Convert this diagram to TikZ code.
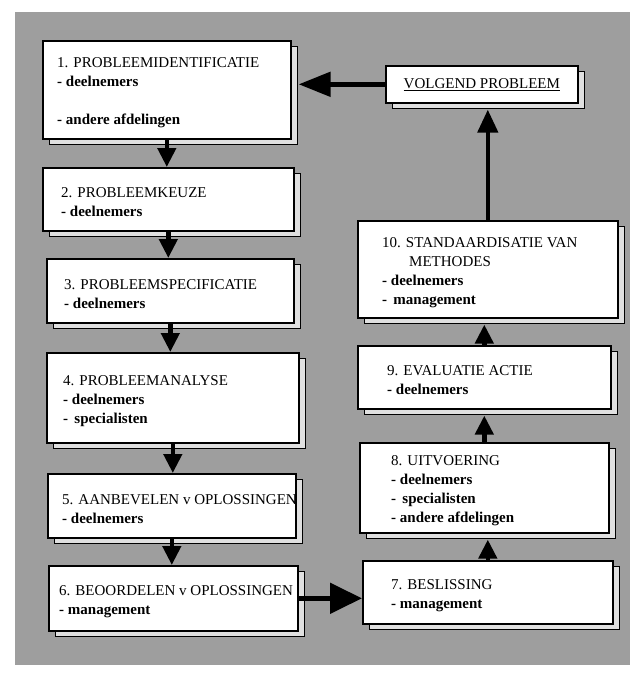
\documentclass[tikz,border=0pt]{standalone}
\usepackage{fontspec}
\setmainfont{Liberation Serif}
\usetikzlibrary{positioning,arrows.meta,shadows}

\begin{document}
\begin{tikzpicture}[
    x=1pt, y=-1pt,
    blok/.style={draw, line width=1.6pt, fill=white, anchor=north west, inner sep=0pt,
      font=\fontsize{15}{19}\selectfont,
      copy shadow={shadow xshift=7pt, shadow yshift=-6pt, fill=black!12, draw=black, line width=1.2pt}},
    tekst/.style={inner sep=0pt, align=left, yshift=-3pt, font=\fontsize{15}{19}\selectfont},
    pijl/.style={line width=4.5pt, -{Triangle[length=19pt,width=18pt]}},
    grotepijl/.style={line width=5pt, -{Triangle[length=32pt,width=30pt]}}
  ]
  % 背景
  \useasboundingbox (0,0) rectangle (635,675);
  \fill[black!38] (15,12) rectangle (630,665);
  % 左列方框
  \node[blok, minimum width=248pt, minimum height=98pt] (b1) at (42,40) {};
  \node[blok, minimum width=251pt, minimum height=63pt] (b2) at (42,167) {};
  \node[blok, minimum width=247pt, minimum height=64pt] (b3) at (46,258) {};
  \node[blok, minimum width=252pt, minimum height=90pt] (b4) at (46,352) {};
  \node[blok, minimum width=248pt, minimum height=64pt] (b5) at (47,473) {};
  \node[blok, minimum width=249pt, minimum height=65pt] (b6) at (48,565) {};
  % 右列方框
  \node[blok, minimum width=250pt, minimum height=63pt] (b7) at (362,560) {};
  \node[blok, minimum width=249pt, minimum height=90pt] (b8) at (359,442) {};
  \node[blok, minimum width=253pt, minimum height=63pt] (b9) at (357,345) {};
  \node[blok, minimum width=260pt, minimum height=97pt] (b10) at (357,220) {};
  \node[blok, minimum width=192pt, minimum height=37pt] (vp) at (385,65) {\underline{VOLGEND PROBLEEM}};
  % 文字
  \node[tekst, right=15pt of b1.west] (t1) {1. PROBLEEMIDENTIFICATIE\\ \textbf{- deelnemers}\\[19pt] \textbf{- andere afdelingen}};
  \node[tekst, right=19pt of b2.west] (t2) {2. PROBLEEMKEUZE\\ \textbf{- deelnemers}};
  \node[tekst, right=18pt of b3.west] (t3) {3. PROBLEEMSPECIFICATIE\\ \textbf{- deelnemers}};
  \node[tekst, right=17pt of b4.west] (t4) {4. PROBLEEMANALYSE\\ \textbf{- deelnemers}\\ \textbf{-\, specialisten}};
  \node[tekst, right=15pt of b5.west] (t5) {5. AANBEVELEN v OPLOSSINGEN\\ \textbf{- deelnemers}};
  \node[tekst, right=11pt of b6.west] (t6) {6. BEOORDELEN v OPLOSSINGEN\\ \textbf{- management}};
  \node[tekst, right=29pt of b7.west] (t7) {7. BESLISSING\\ \textbf{- management}};
  \node[tekst, right=32pt of b8.west] (t8) {8. UITVOERING\\ \textbf{- deelnemers}\\ \textbf{-\, specialisten}\\ \textbf{- andere afdelingen}};
  \node[tekst, right=30pt of b9.west] (t9) {9. EVALUATIE ACTIE\\ \textbf{- deelnemers}};
  \node[tekst, right=25pt of b10.west] (t10) {10. STANDAARDISATIE VAN\\ \hspace*{27pt}METHODES\\ \textbf{- deelnemers}\\ \textbf{-\, management}};
  % 左列箭头
  \draw[pijl] (b1.south) -- (b1.south |- b2.north);
  \draw[pijl] (b2.south) -- (b2.south |- b3.north);
  \draw[pijl] (b3.south) -- (b3.south |- b4.north);
  \draw[pijl] (b4.south) -- (b4.south |- b5.north);
  \draw[pijl] (b5.south) -- (b5.south |- b6.north);
  % 6 到 7
  \draw[grotepijl] (b6.east) -- (b6.east -| b7.west);
  % 右列箭头
  \draw[pijl, shorten >=6pt] (b7.north) -- (b7.north |- b8.south);
  \draw[pijl, shorten >=6pt] (b8.north) -- (b8.north |- b9.south);
  \draw[pijl, shorten >=6pt] (b9.north) -- (b9.north |- b10.south);
  \draw[pijl, -{Triangle[length=23pt,width=20pt]}, shorten >=6pt] (b10.north) -- (b10.north |- vp.south);
  % 回到 1
  \draw[grotepijl, -{Triangle[length=32pt,width=24pt]}, shorten >=7pt] (vp.west) -- (vp.west -| b1.east);
\end{tikzpicture}
\end{document}
